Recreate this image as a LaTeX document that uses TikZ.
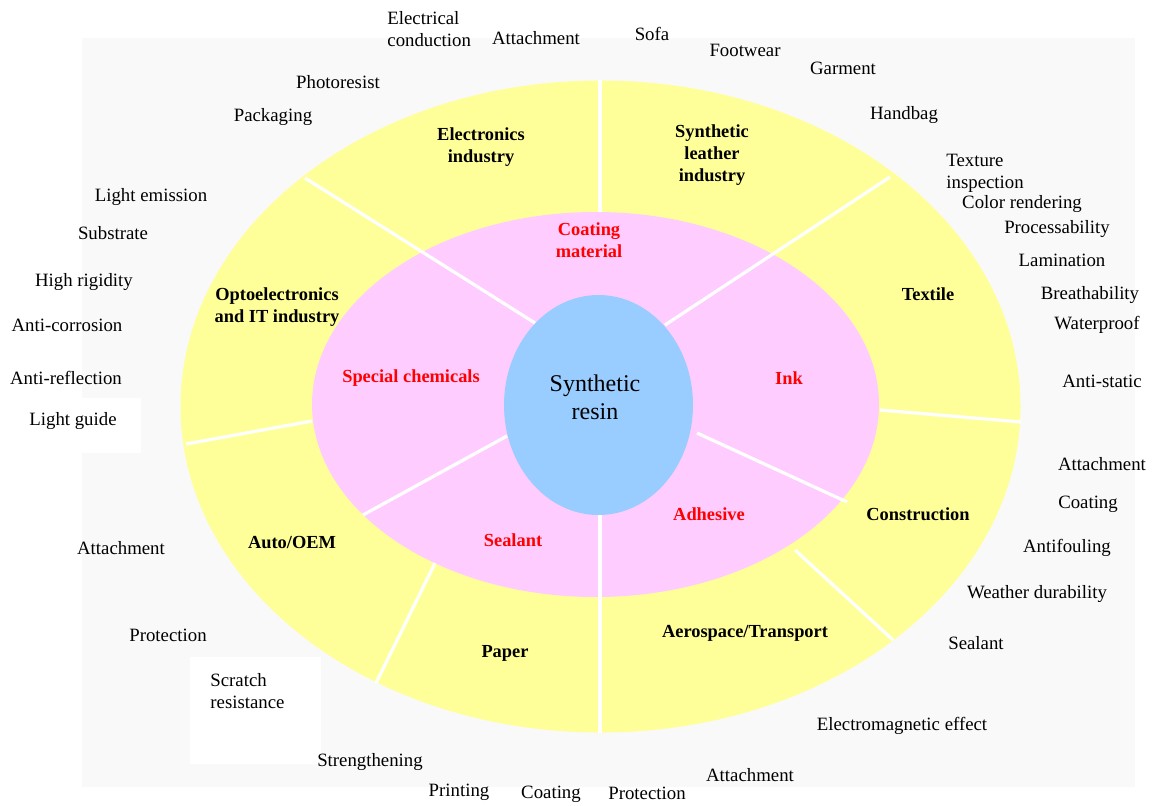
\documentclass[tikz,border=0pt]{standalone}
\usepackage{fontspec}
\setmainfont{Liberation Serif}

\definecolor{ringyellow}{RGB}{255,255,153}
\definecolor{ringpink}{RGB}{255,204,255}
\definecolor{coreblue}{RGB}{153,204,255}
\definecolor{panelgray}{RGB}{249,249,249}
\definecolor{fieldred}{RGB}{255,0,0}

\tikzset{
  use/.style={font=\fontsize{9.4}{11}\selectfont, align=left, inner sep=0pt},
  sector/.style={font=\fontsize{9.2}{11}\selectfont\bfseries, align=center, inner sep=0pt},
  field/.style={sector, text=fieldred},
  divider/.style={white, line width=1.6pt},
}

\begin{document}
\begin{tikzpicture}[x=0.5pt, y=-0.5pt]
  \useasboundingbox (0,0) rectangle (1160,805);

  % Background panel
  \fill[panelgray] (82,38) rectangle (1135,787);
  \fill[white] (82,398) rectangle (141,453);
  \fill[white] (190,657) rectangle (321,764);

  % Rings
  \fill[ringyellow] (600.5,406.5) ellipse [x radius=210pt, y radius=163pt];
  \fill[ringpink] (595.5,404.5) ellipse [x radius=141.75pt, y radius=96.25pt];
  \fill[coreblue] (598.5,405) ellipse [x radius=47.25pt, y radius=55pt];

  % Sector dividers
  \draw[divider] (600,80) -- (600,212);
  \draw[divider] (305,178) -- (535,323);
  \draw[divider] (890,177) -- (665,325);
  \draw[divider] (880,410) -- (1021,422);
  \draw[divider] (186,444) -- (312,421);
  \draw[divider] (507,436) -- (363,515);
  \draw[divider] (435,563) -- (376,683);
  \draw[divider] (600,515) -- (600,733);
  \draw[divider] (697,433) -- (847,502);
  \draw[divider] (795,550) -- (893,640);

  % Core
  \node[font=\fontsize{12}{14}\selectfont, align=center] (resin) at (595,397) {Synthetic\\resin};

  % Middle ring: fields
  \node[field] (coating) at (589,240) {Coating\\material};
  \node[field] (chemicals) at (411,378) {Special chemicals};
  \node[field] (ink) at (789,378) {Ink};
  \node[field] (adhesive) at (709,514) {Adhesive};
  \node[field] (sealant) at (513,540) {Sealant};

  % Outer ring: industries
  \node[sector] (electronics) at (481,147) {Electronics\\industry};
  \node[sector] (leather) at (712,155) {Synthetic\\leather\\industry};
  \node[sector] (textile) at (928,294) {Textile};
  \node[sector] (construction) at (918,514) {Construction};
  \node[sector] (aerospace) at (745,633) {Aerospace/Transport};
  \node[sector] (paper) at (505,653) {Paper};
  \node[sector] (auto) at (292,543) {Auto/OEM};
  \node[sector] (opto) at (277,307) {Optoelectronics\\and IT industry};

  % Uses, top
  \node[use, anchor=west] (conduction) at (387,29) {Electrical\\conduction};
  \node[use] (attach-top) at (536,38) {Attachment};
  \node[use] (sofa) at (652,34) {Sofa};
  \node[use] (footwear) at (745,50) {Footwear};
  \node[use] (garment) at (843,68) {Garment};
  \node[use] (handbag) at (904,115) {Handbag};

  % Uses, right
  \node[use, anchor=west] (texture) at (946,173) {Texture\\inspection};
  \node[use] (color) at (1022,204) {Color rendering};
  \node[use] (process) at (1057,229) {Processability};
  \node[use] (lamination) at (1062,260) {Lamination};
  \node[use] (breath) at (1090,295) {Breathability};
  \node[use] (waterproof) at (1097,325) {Waterproof};
  \node[use] (antistatic) at (1102,381) {Anti-static};
  \node[use] (attach-right) at (1102,464) {Attachment};
  \node[use] (coat-right) at (1088,504) {Coating};
  \node[use] (antifouling) at (1067,548) {Antifouling};
  \node[use] (weather) at (1037,594) {Weather durability};
  \node[use] (seal-right) at (976,643) {Sealant};

  % Uses, bottom
  \node[use] (emag) at (902,726) {Electromagnetic effect};
  \node[use] (attach-bottom) at (750,775) {Attachment};
  \node[use] (protect-bottom) at (647,793) {Protection};
  \node[use] (coat-bottom) at (551,794) {Coating};
  \node[use] (printing) at (459,792) {Printing};
  \node[use] (strength) at (370,762) {Strengthening};
  \node[use, anchor=west] (scratch) at (210,691) {Scratch\\resistance};

  % Uses, left
  \node[use] (protect-left) at (168,635) {Protection};
  \node[use] (attach-left) at (121,548) {Attachment};
  \node[use] (guide) at (73,421) {Light guide};
  \node[use] (antireflect) at (66,378) {Anti-reflection};
  \node[use] (anticorr) at (67,325) {Anti-corrosion};
  \node[use] (rigidity) at (84,282) {High rigidity};
  \node[use] (substrate) at (113,233) {Substrate};
  \node[use] (emission) at (151,197) {Light emission};
  \node[use] (packaging) at (273,117) {Packaging};
  \node[use] (photoresist) at (338,82) {Photoresist};
\end{tikzpicture}
\end{document}
